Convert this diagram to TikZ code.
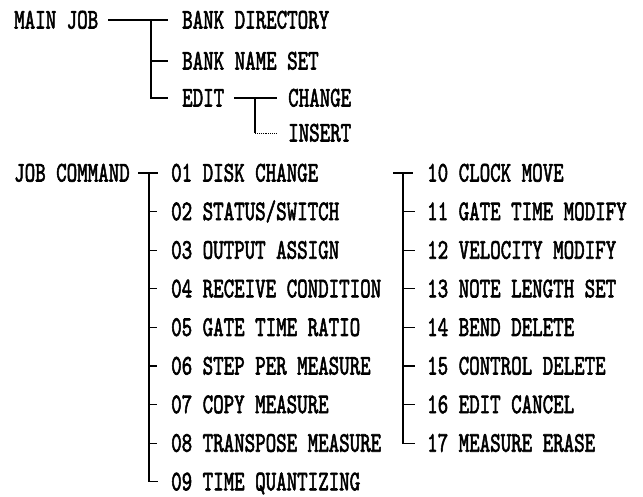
\documentclass[tikz,border=0pt]{standalone}
\usepackage{graphicx}
\font\rfnt="[lmmono10-regular.otf]:embolden=2.5" at 20pt
\newcommand\tall[1]{\scalebox{1}[1.42]{#1}}
\begin{document}
\begin{tikzpicture}[x=1pt,y=-1pt,
  lbl/.style={anchor=west, inner sep=0pt, text height=17pt, text depth=0pt,
    font=\rfnt},
  conn/.style={line width=1.3pt},
  thinconn/.style={line width=0.9pt, densely dotted}]
\useasboundingbox[fill=white] (0,0) rectangle (643,496);
% main job tree
\node[lbl] (mainjob)  at (14,20)  {\tall{MAIN JOB}};
\node[lbl] (bankdir)  at (182,20) {\tall{BANK DIRECTORY}};
\node[lbl] (bankname) at (182,61) {\tall{BANK NAME SET}};
\node[lbl] (edit)     at (182,98) {\tall{EDIT}};
\node[lbl] (change)   at (288,98) {\tall{CHANGE}};
\node[lbl] (insert)   at (288,133) {\tall{INSERT}};
\draw[conn] ([xshift=10pt]mainjob.east) -- ([xshift=-14pt]bankdir.west);
\draw[conn] ([xshift=-31pt]bankdir.west) |- ([xshift=-14pt]edit.west);
\draw[conn] ([xshift=-31pt]bankname.west) -- ([xshift=-14pt]bankname.west);
\draw[conn] ([xshift=10pt]edit.east) -- ([xshift=-11pt]change.west);
\draw[conn] ([xshift=-33pt]change.west) -- ([xshift=-33pt]insert.west);
\draw[thinconn] ([xshift=-33pt]insert.west) -- ([xshift=-11pt]insert.west);
% job command
\node[lbl] (jobcmd) at (14,173) {\tall{JOB COMMAND}};
\node[lbl] (c01) at (171,173.0) {\tall{01 DISK CHANGE}};
\node[lbl] (c02) at (171,211.6) {\tall{02 STATUS/SWITCH}};
\node[lbl] (c03) at (171,250.2) {\tall{03 OUTPUT ASSIGN}};
\node[lbl] (c04) at (171,288.8) {\tall{04 RECEIVE CONDITION}};
\node[lbl] (c05) at (171,327.4) {\tall{05 GATE TIME RATIO}};
\node[lbl] (c06) at (171,366.0) {\tall{06 STEP PER MEASURE}};
\node[lbl] (c07) at (171,404.6) {\tall{07 COPY MEASURE}};
\node[lbl] (c08) at (171,443.2) {\tall{08 TRANSPOSE MEASURE}};
\node[lbl] (c09) at (171,481.8) {\tall{09 TIME QUANTIZING}};
\node[lbl] (c10) at (427,173.0) {\tall{10 CLOCK MOVE}};
\node[lbl] (c11) at (427,211.6) {\tall{11 GATE TIME MODIFY}};
\node[lbl] (c12) at (427,250.2) {\tall{12 VELOCITY MODIFY}};
\node[lbl] (c13) at (427,288.8) {\tall{13 NOTE LENGTH SET}};
\node[lbl] (c14) at (427,327.4) {\tall{14 BEND DELETE}};
\node[lbl] (c15) at (427,366.0) {\tall{15 CONTROL DELETE}};
\node[lbl] (c16) at (427,404.6) {\tall{16 EDIT CANCEL}};
\node[lbl] (c17) at (427,443.2) {\tall{17 MEASURE ERASE}};
% left column connectors
\draw[conn] ([xshift=-33pt]c01.west) -- ([xshift=-13pt]c01.west);
\draw[conn] ([xshift=-22pt]c01.west) |- ([xshift=-13pt]c09.west);
\foreach \n in {02,03,04,05,06,07,08}
  \draw[conn] ([xshift=-22pt]c\n.west) -- ([xshift=-14pt]c\n.west);
% right column connectors
\draw[conn] ([xshift=-34pt]c10.west) -- ([xshift=-14pt]c10.west);
\draw[conn] ([xshift=-24pt]c10.west) |- ([xshift=-12pt]c17.west);
\foreach \n in {11,12,13,14,15,16}
  \draw[conn] ([xshift=-24pt]c\n.west) -- ([xshift=-12pt]c\n.west);
\end{tikzpicture}
\end{document}
